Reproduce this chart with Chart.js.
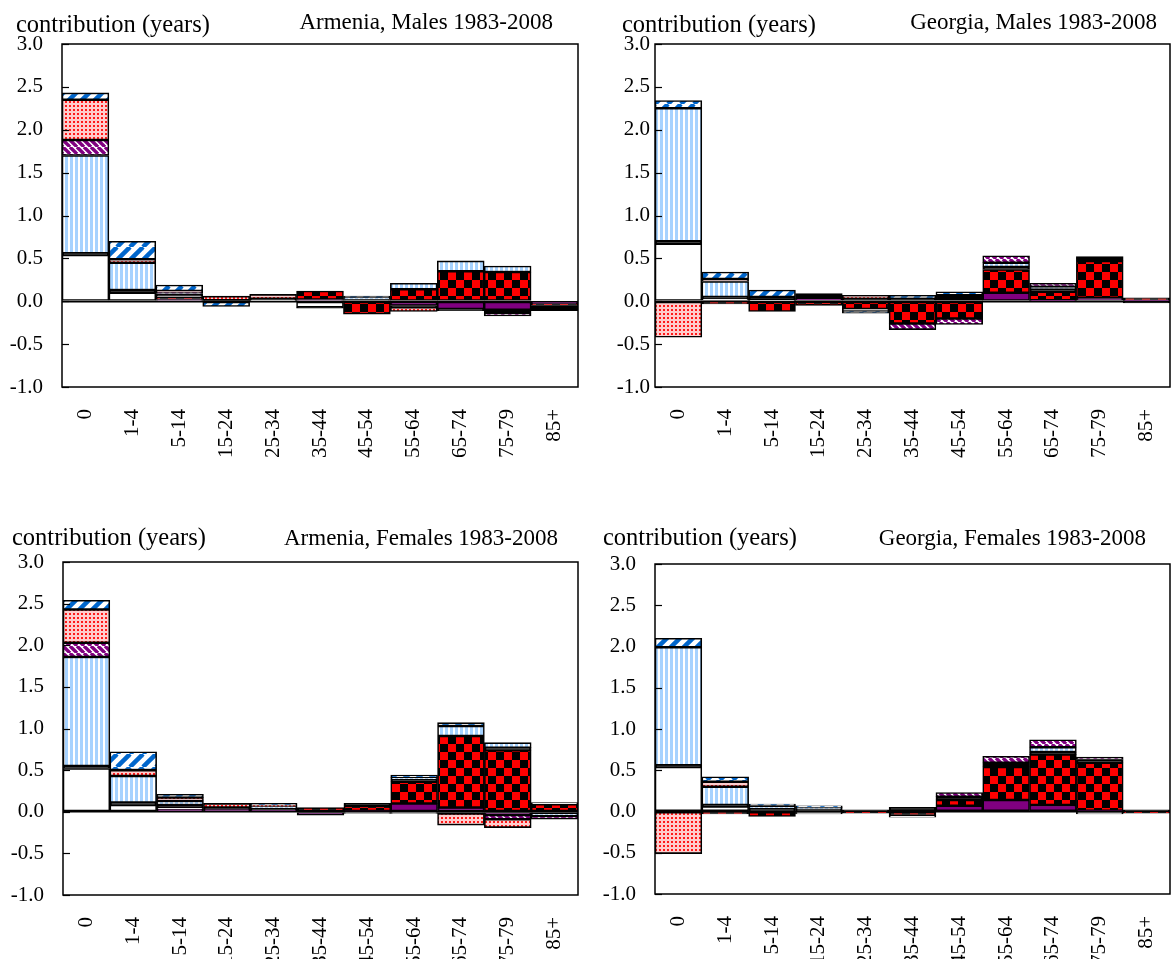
<!DOCTYPE html>
<html>
<head>
<meta charset="utf-8">
<script src="https://cdn.jsdelivr.net/npm/chart.js@4.4.1/dist/chart.umd.min.js"></script>
<style>
  body { margin: 0; background: #fff; width: 1173px; height: 959px; position: relative; overflow: hidden;
         font-family: "Liberation Serif", "Times New Roman", serif; }
  canvas { position: absolute; }
  .t { position: absolute; font-size: 23px; line-height: 23px; white-space: nowrap; color: #000; }
  .c { font-size: 24.5px; }
</style>
</head>
<body>
<canvas id="am" width="586" height="470" style="left:0;top:0"></canvas>
<canvas id="gm" width="583" height="470" style="left:590px;top:0"></canvas>
<canvas id="af" width="586" height="439" style="left:0;top:520px"></canvas>
<canvas id="gf" width="583" height="439" style="left:590px;top:520px"></canvas>

<div class="t c" style="left:16px;top:12px">contribution (years)</div>
<div class="t" style="right:620px;top:10px">Armenia, Males 1983-2008</div>
<div class="t c" style="left:622px;top:12px">contribution (years)</div>
<div class="t" style="right:16px;top:10px">Georgia, Males 1983-2008</div>
<div class="t c" style="left:12px;top:525px">contribution (years)</div>
<div class="t" style="right:615px;top:526px">Armenia, Females 1983-2008</div>
<div class="t c" style="left:603px;top:525px">contribution (years)</div>
<div class="t" style="right:27px;top:526px">Georgia, Females 1983-2008</div>

<script>
const ageGroups = ['0', '1-4', '5-14', '15-24', '25-34', '35-44', '45-54', '55-64', '65-74', '75-79', '85+'];

// Armenia, males
const amPurple  = [0, 0, 0.02, 0, 0, 0.02, 0, -0.05, -0.09, -0.10, -0.03];
const amChecker = [0, 0, 0.03, 0, 0, 0.10, -0.15, 0.14, 0.35, 0.34, -0.02];
const amWhite   = [0.54, 0.10, 0.01, 0, 0.01, -0.07, 0, 0, 0, 0, 0];
const amBlack   = [0.02, 0.03, 0.02, 0.01, 0.02, -0.01, 0.02, -0.02, -0.02, -0.04, -0.06];
const amStripes = [1.14, 0.32, 0.01, 0, 0, 0, 0.02, 0.07, 0.12, 0.07, 0];
const amHatch   = [0.18, 0, 0.01, 0, 0, 0, 0, 0, 0, -0.03, 0];
const amDots    = [0.47, 0.04, 0.02, 0.05, 0.05, 0, 0, -0.05, 0, 0, 0];
const amDiag    = [0.08, 0.21, 0.07, -0.06, 0, 0, 0.02, 0, 0, 0, 0];

// Georgia, males
const gmPurple  = [0, 0, 0, 0.03, 0, 0, 0, 0.10, 0.01, 0.04, 0.01];
const gmChecker = [0, -0.03, -0.12, -0.05, -0.09, -0.26, -0.20, 0.27, 0.10, 0.43, 0.03];
const gmWhite   = [0.67, 0.03, 0.01, 0, -0.02, 0, 0, 0, 0, 0, 0];
const gmBlack   = [0.03, 0.02, 0.04, 0.06, 0.03, 0.03, 0.07, 0.03, 0.03, 0.05, -0.02];
const gmStripes = [1.55, 0.18, 0, 0, 0, 0, 0, 0.05, 0.03, 0, 0];
const gmHatch   = [0, 0, 0, 0, 0, -0.07, -0.07, 0.08, 0.04, 0, 0];
const gmDots    = [-0.42, 0.03, 0, 0, 0.04, 0, 0, 0, 0, 0, 0];
const gmDiag    = [0.09, 0.08, 0.08, 0, -0.03, 0.04, 0.04, 0, 0, 0, 0];

// Armenia, females
const afPurple  = [0, 0, 0.03, 0.03, 0.02, -0.04, 0.01, 0.10, 0.05, -0.04, 0];
const afChecker = [0, 0, 0, 0, 0, 0.05, 0.06, 0.26, 0.86, 0.74, 0.09];
const afWhite   = [0.52, 0.08, 0.02, 0, 0, 0, -0.02, -0.02, 0, 0, 0.02];
const afBlack   = [0.03, 0.03, 0.03, 0.02, 0.02, 0, 0.03, 0.03, -0.02, 0.03, -0.02];
const afStripes = [1.31, 0.32, 0.05, 0, 0.02, 0, 0, 0.02, 0.12, 0.06, -0.03];
const afHatch   = [0.17, 0, 0, 0, 0, 0, 0, 0, 0, -0.05, -0.04];
const afDots    = [0.40, 0.07, 0.04, 0.05, 0.02, 0, 0, 0, -0.14, -0.10, 0];
const afDiag    = [0.11, 0.22, 0.04, 0, 0.02, 0, 0, 0.03, 0.04, 0, 0];

// Georgia, females
const gfPurple  = [0, 0, 0, 0, 0, 0, 0.07, 0.14, 0.08, 0.01, 0];
const gfChecker = [0, -0.03, -0.06, 0, -0.02, -0.05, 0.07, 0.40, 0.61, 0.58, -0.02];
const gfWhite   = [0.54, 0.06, 0, -0.03, 0, -0.02, 0, 0, 0, -0.03, 0];
const gfBlack   = [0.02, 0.02, 0.03, 0.03, 0.02, 0.05, 0.04, 0.05, 0.03, 0.04, 0.02];
const gfStripes = [1.43, 0.22, 0.04, 0.02, 0, 0, 0, 0, 0.06, 0, 0];
const gfHatch   = [0, 0, 0, 0, 0, 0, 0.05, 0.08, 0.09, 0.03, 0];
const gfDots    = [-0.51, 0.06, 0, 0, 0, 0, 0, 0, 0, 0, 0];
const gfDiag    = [0.11, 0.06, 0.02, 0.02, 0, 0, 0, 0, 0, 0, 0];

const yTicks = [-1, -0.5, 0, 0.5, 1, 1.5, 2, 2.5, 3];

// fills
function tile(w, h, draw) {
  const c = document.createElement('canvas');
  c.width = w; c.height = h;
  const g = c.getContext('2d');
  draw(g, w, h);
  return g.createPattern(c, 'repeat');
}
function diag(g, s, dir, color, lw) {
  g.strokeStyle = color; g.lineWidth = lw;
  for (let x0 = -s; x0 <= s; x0 += s) {
    g.beginPath();
    if (dir > 0) { g.moveTo(x0, s); g.lineTo(x0 + s, 0); }
    else { g.moveTo(x0, 0); g.lineTo(x0 + s, s); }
    g.stroke();
  }
}
const purpleFill = '#800080';
const checkerFill = tile(16, 16, (g) => {
  g.fillStyle = '#000'; g.fillRect(0, 0, 16, 16);
  g.fillStyle = '#ff0000'; g.fillRect(0, 0, 8, 8); g.fillRect(8, 8, 8, 8);
});
const whiteFill = '#ffffff';
const blackFill = '#000000';
const stripeFill = tile(5, 4, (g) => {
  g.fillStyle = '#fff'; g.fillRect(0, 0, 5, 4);
  g.fillStyle = '#a6d2ff'; g.fillRect(0, 0, 3, 4);
});
const hatchFill = tile(7, 7, (g) => {
  g.fillStyle = '#fff'; g.fillRect(0, 0, 7, 7);
  diag(g, 7, -1, purpleFill, 3.4);
});
const dotFill = tile(4, 4, (g) => {
  g.fillStyle = '#ffcccc'; g.fillRect(0, 0, 4, 4);
  g.fillStyle = '#ff1a1a'; g.fillRect(1, 1, 2, 2);
});
const diagFill = tile(13, 13, (g) => {
  g.fillStyle = '#fff'; g.fillRect(0, 0, 13, 13);
  diag(g, 13, 1, '#0066cc', 4.5);
});

const fills = [purpleFill, checkerFill, whiteFill, blackFill, stripeFill, hatchFill, dotFill, diagFill];
const seriesNames = ['purple', 'checker', 'white', 'black', 'light blue stripes', 'purple hatch', 'red dots', 'blue diagonal'];

const boxPlugin = {
  id: 'box',
  afterDatasetsDraw(chart) {
    const { ctx, chartArea: a, scales: { y } } = chart;
    ctx.save();
    ctx.strokeStyle = '#000';
    ctx.lineWidth = 1.2;
    yTicks.forEach(v => {
      const py = Math.round(y.getPixelForValue(v)) + 0.5;
      ctx.beginPath(); ctx.moveTo(a.left, py); ctx.lineTo(a.left + 7, py); ctx.stroke();
    });
    ctx.lineWidth = 1.5;
    ctx.strokeRect(a.left, a.top, a.right - a.left, a.bottom - a.top);
    ctx.restore();
  }
};

function makeChart(id, series, yw, xh, padTop, padRight, tickPad) {
  return new Chart(document.getElementById(id), {
    type: 'bar',
    data: {
      labels: ageGroups,
      datasets: series.map((d, i) => ({
        label: seriesNames[i],
        data: d,
        backgroundColor: fills[i],
        borderColor: '#000',
        borderWidth: 1.6,
        borderSkipped: false,
        categoryPercentage: 1,
        barPercentage: 1
      }))
    },
    options: {
      responsive: false,
      devicePixelRatio: 1,
      animation: false,
      layout: { padding: { top: padTop, right: padRight, left: 0, bottom: 0 } },
      plugins: { legend: { display: false }, title: { display: false }, tooltip: { enabled: false } },
      scales: {
        x: {
          stacked: true,
          grid: { display: false },
          border: { display: false },
          afterFit: (s) => { s.height = xh; s.paddingLeft = 0; s.paddingRight = 0; },
          ticks: {
            minRotation: 90, maxRotation: 90, padding: 14, color: '#000',
            font: { family: 'Liberation Serif', size: 21 }
          }
        },
        y: {
          stacked: true,
          min: -1, max: 3,
          afterFit: (s) => { s.width = yw; s.paddingTop = 0; s.paddingBottom = 0; },
          border: { display: false },
          grid: {
            drawTicks: false,
            color: (c) => (c.tick && c.tick.value === 0 ? '#000' : 'rgba(0,0,0,0)'),
            lineWidth: 1.5
          },
          ticks: {
            stepSize: 0.5, padding: tickPad, color: '#000',
            font: { family: 'Liberation Serif', size: 21 },
            callback: (v) => Number(v).toFixed(1)
          }
        }
      }
    },
    plugins: [boxPlugin]
  });
}

makeChart('am', [amPurple, amChecker, amWhite, amBlack, amStripes, amHatch, amDots, amDiag], 62, 83, 44, 8, 19);
makeChart('gm', [gmPurple, gmChecker, gmWhite, gmBlack, gmStripes, gmHatch, gmDots, gmDiag], 65, 83, 44, 3, 5);
makeChart('af', [afPurple, afChecker, afWhite, afBlack, afStripes, afHatch, afDots, afDiag], 63, 64, 42, 8, 19);
makeChart('gf', [gfPurple, gfChecker, gfWhite, gfBlack, gfStripes, gfHatch, gfDots, gfDiag], 65, 65, 44, 3, 19);
</script>
</body>
</html>
